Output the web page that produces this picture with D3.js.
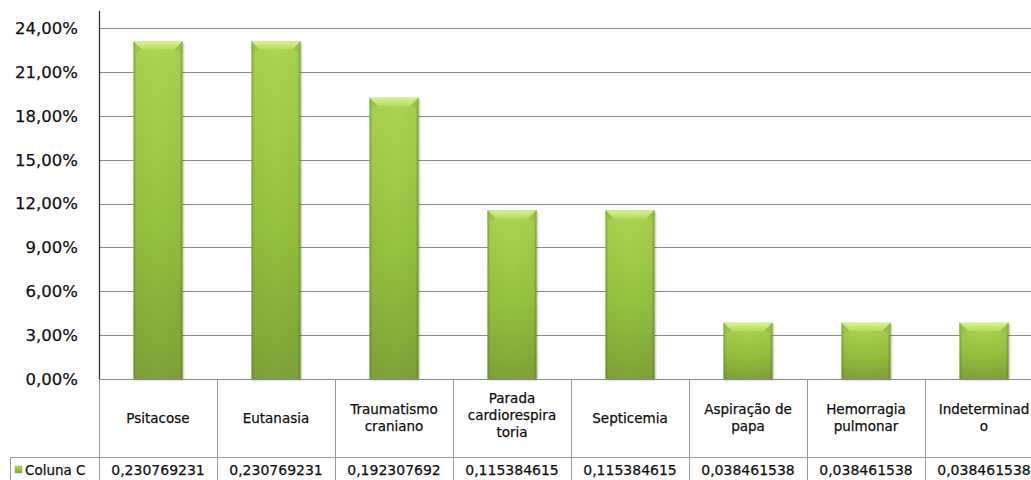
<!DOCTYPE html>
<html>
<head>
<meta charset="utf-8">
<script src="https://cdn.jsdelivr.net/npm/d3@7"></script>
<style>
  html, body { margin: 0; padding: 0; background: #fff; }
  svg { display: block; }
  text { font-family: "DejaVu Sans", sans-serif; fill: #111; stroke: #111; stroke-width: 0.25px; }
</style>
</head>
<body>
<svg id="chart" width="1031" height="480"></svg>
<script>
// ---- data ----
const categories = ["Psitacose", "Eutanasia", "Traumatismo craniano", "Parada cardiorespiratoria",
                    "Septicemia", "Aspiração de papa", "Hemorragia pulmonar", "Indeterminado"];
const categoryLines = [["Psitacose"], ["Eutanasia"], ["Traumatismo", "craniano"],
                       ["Parada", "cardiorespira", "toria"], ["Septicemia"],
                       ["Aspiração de", "papa"], ["Hemorragia", "pulmonar"], ["Indeterminad", "o"]];
const seriesName = "Coluna C";
const values = [0.230769231, 0.230769231, 0.192307692, 0.115384615,
                0.115384615, 0.038461538, 0.038461538, 0.038461538];
const valueLabels = ["0,230769231", "0,230769231", "0,192307692", "0,115384615",
                     "0,115384615", "0,038461538", "0,038461538", "0,038461538"];
const yTicks = [0, 0.03, 0.06, 0.09, 0.12, 0.15, 0.18, 0.21, 0.24];
const yTickLabels = ["0,00%", "3,00%", "6,00%", "9,00%", "12,00%", "15,00%", "18,00%", "21,00%", "24,00%"];

// ---- layout ----
const svg = d3.select("#chart");
const W = 1031;
const plotLeft = 99, plotTop = 28, plotBottom = 379;
const headerBottom = 457, tableBottom = 481, tableLeft = 10;

const x = d3.scaleBand().domain(categories).range([plotLeft, plotLeft + 8 * 118]).padding(0);
const y = d3.scaleLinear().domain([0, 0.24]).range([plotBottom, plotTop]);
const barW = x.bandwidth() * 0.415;

// ---- defs ----
const defs = svg.append("defs");
const gv = defs.append("linearGradient").attr("id", "barV").attr("x1", 0).attr("y1", 0).attr("x2", 0).attr("y2", 1);
gv.append("stop").attr("offset", "0%").attr("stop-color", "#aed553");
gv.append("stop").attr("offset", "55%").attr("stop-color", "#96c23f");
gv.append("stop").attr("offset", "100%").attr("stop-color", "#7fa338");
const gh = defs.append("linearGradient").attr("id", "barH").attr("x1", 0).attr("y1", 0).attr("x2", 1).attr("y2", 0);
gh.append("stop").attr("offset", "0%").attr("stop-color", "#4d6a1c").attr("stop-opacity", 0.45);
gh.append("stop").attr("offset", "6%").attr("stop-color", "#4d6a1c").attr("stop-opacity", 0.05);
gh.append("stop").attr("offset", "50%").attr("stop-color", "#4d6a1c").attr("stop-opacity", 0);
gh.append("stop").attr("offset", "94%").attr("stop-color", "#4d6a1c").attr("stop-opacity", 0.06);
gh.append("stop").attr("offset", "100%").attr("stop-color", "#4d6a1c").attr("stop-opacity", 0.5);
const gt = defs.append("linearGradient").attr("id", "bevel").attr("x1", 0).attr("y1", 0).attr("x2", 0).attr("y2", 1);
gt.append("stop").attr("offset", "0%").attr("stop-color", "#d6ef98");
gt.append("stop").attr("offset", "100%").attr("stop-color", "#b6dc62");
const sh = defs.append("filter").attr("id", "shadow").attr("x", "-20%").attr("y", "-5%").attr("width", "140%").attr("height", "115%");
sh.append("feDropShadow").attr("dx", 1).attr("dy", 1).attr("stdDeviation", 1.2).attr("flood-color", "#000").attr("flood-opacity", 0.3);

// ---- gridlines ----
svg.append("g").selectAll("line").data(yTicks).join("line")
  .attr("x1", plotLeft).attr("x2", W)
  .attr("y1", d => Math.round(y(d)) + 0.5).attr("y2", d => Math.round(y(d)) + 0.5)
  .attr("stroke", "#8a8a8a").attr("stroke-width", 1);

// ---- y labels ----
svg.append("g").selectAll("text").data(yTicks).join("text")
  .attr("x", 78).attr("y", d => y(d)).attr("dy", "0.36em")
  .attr("text-anchor", "end").style("font-size", "16.5px")
  .text((d, i) => yTickLabels[i]);

// ---- bars ----
const bars = svg.append("g").selectAll("g").data(values).join("g");
const bx = (d, i) => x(categories[i]) + (x.bandwidth() - barW) / 2;
bars.append("rect")
  .attr("x", bx).attr("y", d => y(d)).attr("width", barW).attr("height", d => y(0) - y(d))
  .attr("fill", "url(#barV)").attr("filter", "url(#shadow)");
bars.append("rect")
  .attr("x", bx).attr("y", d => y(d)).attr("width", barW).attr("height", d => y(0) - y(d))
  .attr("fill", "url(#barH)");
bars.append("path")
  .attr("d", (d, i) => {
    const x0 = bx(d, i), x1 = x0 + barW, t = y(d), b = 8;
    return `M${x0},${t}L${x1},${t}L${x1 - b},${t + b}L${x0 + b},${t + b}Z`;
  })
  .attr("fill", "url(#bevel)");
bars.append("path")
  .attr("d", (d, i) => {
    const x0 = bx(d, i), x1 = x0 + barW, t = y(d), b = 8;
    return `M${x0},${t}L${x0 + b},${t + b}L${x0},${t + b + 4}Z M${x1},${t}L${x1 - b},${t + b}L${x1},${t + b + 4}Z`;
  })
  .attr("fill", "#8fb843").attr("opacity", 0.55);

// ---- axis line ----
svg.append("line").attr("x1", plotLeft + 0.5).attr("x2", plotLeft + 0.5).attr("y1", 11).attr("y2", plotBottom)
  .attr("stroke", "#333").attr("stroke-width", 1.3);

// ---- data table ----
const tg = svg.append("g");
const gridColor = "#9a9a9a";
tg.append("line").attr("x1", plotLeft).attr("x2", W).attr("y1", plotBottom + 0.5).attr("y2", plotBottom + 0.5).attr("stroke", "#8a8a8a");
tg.append("line").attr("x1", tableLeft).attr("x2", W).attr("y1", headerBottom + 0.5).attr("y2", headerBottom + 0.5).attr("stroke", gridColor);
tg.append("line").attr("x1", tableLeft + 0.5).attr("x2", tableLeft + 0.5).attr("y1", headerBottom).attr("y2", tableBottom).attr("stroke", gridColor);
tg.selectAll("line.col").data(categories).join("line").attr("class", "col")
  .attr("x1", d => x(d) + 0.5).attr("x2", d => x(d) + 0.5)
  .attr("y1", plotBottom).attr("y2", tableBottom).attr("stroke", gridColor);

// header labels
const lineH = 17;
const headerMid = (plotBottom + headerBottom) / 2;
tg.selectAll("text.cat").data(categoryLines).join("text").attr("class", "cat")
  .attr("text-anchor", "middle").style("font-size", "13.5px")
  .each(function(lines, i) {
    const cx = x(categories[i]) + x.bandwidth() / 2;
    const offset = lines.length === 3 ? -3 : 0;
    const start = headerMid + offset - (lines.length - 1) * lineH / 2;
    d3.select(this).selectAll("tspan").data(lines).join("tspan")
      .attr("x", cx).attr("y", (l, j) => start + j * lineH).attr("dy", "0.35em").text(l => l);
  });

// values row
tg.selectAll("text.val").data(valueLabels).join("text").attr("class", "val")
  .attr("x", (d, i) => x(categories[i]) + x.bandwidth() / 2).attr("y", 470).attr("dy", "0.35em")
  .attr("text-anchor", "middle").style("font-size", "14px").text(d => d);

// legend key
tg.append("rect").attr("x", 15).attr("y", 466).attr("width", 7).attr("height", 7).attr("fill", "url(#barV)")
  .attr("stroke", "#8fb843").attr("stroke-width", 0.5);
tg.append("text").attr("x", 25).attr("y", 470).attr("dy", "0.35em").style("font-size", "13.5px").text(seriesName);
</script>
</body>
</html>
